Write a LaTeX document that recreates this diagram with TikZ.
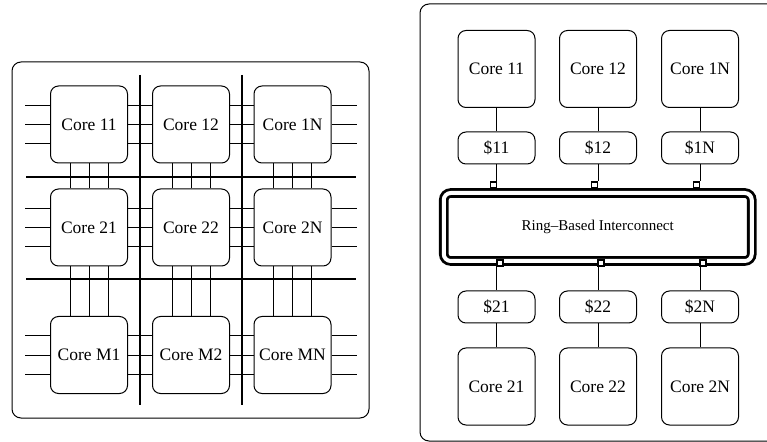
\documentclass[tikz,border=0pt]{standalone}
\usepackage{fontspec}
\setmainfont{Liberation Serif}
\usetikzlibrary{positioning}

\begin{document}
\begin{tikzpicture}[x=1bp,y=-1bp,font=\fontsize{17.5bp}{20bp}\selectfont,
  core/.style={draw,line width=1bp,rounded corners=8bp,minimum width=77bp,minimum height=77bp,inner sep=0pt},
  cache/.style={draw,line width=1bp,rounded corners=8bp,minimum width=77bp,minimum height=32bp,inner sep=0pt},
  wire/.style={line width=1bp},
  bus/.style={line width=2.8bp},
  port/.style={draw,fill=white,line width=1.2bp,minimum size=6bp,inner sep=0pt},
  frame/.style={draw,line width=1bp,rounded corners=9bp}]
  \useasboundingbox (0,0) rectangle (767,442);
  \clip (0,0) rectangle (767,442);
  % mesh
  \draw[frame] (12,62) rectangle (369,418);
  \node[core] (g11) at (89,124.5) {Core 11};
  \node[core] (g12) at (191,124.5) {Core 12};
  \node[core] (g1N) at (292.5,124.5) {Core 1N};
  \node[core] (g21) at (89,227.5) {Core 21};
  \node[core] (g22) at (191,227.5) {Core 22};
  \node[core] (g2N) at (292.5,227.5) {Core 2N};
  \node[core] (gM1) at (89,355) {Core M1};
  \node[core] (gM2) at (191,355) {Core M2};
  \node[core] (gMN) at (292.5,355) {Core MN};
  \foreach \r in {1,2,M}{
    \foreach \d in {-19,0,19}{
      \draw[wire] ([yshift=\d bp]g\r1.west) -- ++(-25,0);
      \draw[wire] ([yshift=\d bp]g\r1.east) -- ([yshift=\d bp]g\r2.west);
      \draw[wire] ([yshift=\d bp]g\r2.east) -- ([yshift=\d bp]g\r N.west);
      \draw[wire] ([yshift=\d bp]g\r N.east) -- ++(25,0);
    }}
  \foreach \c in {1,2,N}{
    \foreach \d in {-19,0,19}{
      \draw[wire] ([xshift=\d bp]g1\c.south) -- ([xshift=\d bp]g2\c.north);
      \draw[wire] ([xshift=\d bp]g2\c.south) -- ([xshift=\d bp]gM\c.north);
    }}
  \draw[bus] (26,177) -- (356,177);
  \draw[bus] (26,279) -- (356,279);
  \draw[bus] (140,75) -- (140,405);
  \draw[bus] (242,75) -- (242,405);
  % ring
  \draw[frame] (420,4) rectangle (790,441);
  \node[core] (r11) at (496.5,69) {Core 11};
  \node[core] (r12) at (598,69) {Core 12};
  \node[core] (r1N) at (700,69) {Core 1N};
  \node[cache] (s11) at (496.5,148) {\$11};
  \node[cache] (s12) at (598,148) {\$12};
  \node[cache] (s1N) at (700,148) {\$1N};
  \node[draw,line width=2.8bp,double,double distance=4bp,rounded corners=7bp,
    minimum width=308bp,minimum height=68bp,inner sep=0pt,font=\fontsize{15bp}{18bp}\selectfont]
    (ring) at (597.75,227) {Ring--Based Interconnect};
  \node[cache] (s21) at (496.5,307) {\$21};
  \node[cache] (s22) at (598,307) {\$22};
  \node[cache] (s2N) at (700,307) {\$2N};
  \node[core] (r21) at (496.5,386.5) {Core 21};
  \node[core] (r22) at (598,386.5) {Core 22};
  \node[core] (r2N) at (700,386.5) {Core 2N};
  \node[port] (p11) at (493.5,185) {};
  \node[port] (p12) at (594.5,185) {};
  \node[port] (p1N) at (696.5,185) {};
  \node[port] (p21) at (500,263) {};
  \node[port] (p22) at (601,263) {};
  \node[port] (p2N) at (703,263) {};
  \foreach \c in {11,12,1N}{
    \draw[wire] (r\c) -- (s\c);
    \draw[wire] (s\c.south) -- (s\c.south |- p\c.north);
  }
  \foreach \c in {21,22,2N}{
    \draw[wire] (p\c.south -| s\c.north) -- (s\c.north);
    \draw[wire] (s\c) -- (r\c);
  }
\end{tikzpicture}
\end{document}
